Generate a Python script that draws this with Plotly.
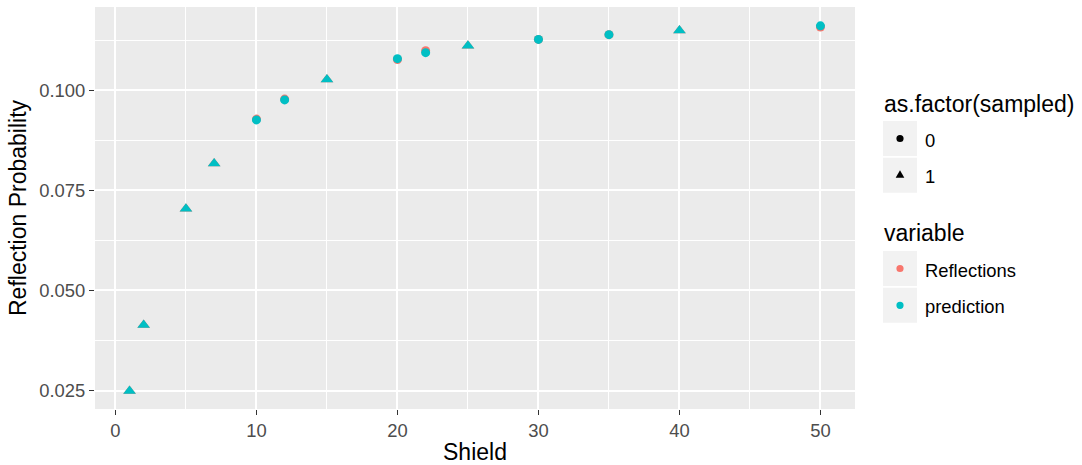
import plotly.graph_objects as go

# ---- data ----
shield = [1, 2, 5, 7, 10, 12, 15, 20, 22, 25, 30, 35, 40, 50]
sampled = [1, 1, 1, 1, 0, 0, 1, 0, 0, 1, 0, 0, 1, 0]
reflections = [0.0249, 0.0414, 0.0704, 0.0817, 0.0928, 0.0978, 0.1027,
               0.1077, 0.1099, 0.1111, 0.1127, 0.1139, 0.1149, 0.1158]
prediction = [0.0249, 0.0414, 0.0704, 0.0817, 0.0926, 0.0976, 0.1027,
              0.1079, 0.1094, 0.1111, 0.1127, 0.1139, 0.1149, 0.1161]
variables = ["Reflections", "prediction"]
var_colors = ["#F8766D", "#00BFC4"]
sampled_levels = ["0", "1"]
x_ticks = [0, 10, 20, 30, 40, 50]
y_ticks = [0.025, 0.050, 0.075, 0.100]

FONT = "Liberation Sans, Arial, sans-serif"
W, H = 1082, 465
ML, MR, MT, MB = 95, 227, 7, 56
PW, PH = W - ML - MR, H - MT - MB

symbols = ["circle" if s == 0 else "triangle-up" for s in sampled]
sizes = [9 if s == 0 else 11 for s in sampled]

fig = go.Figure()
for name, vals, col in zip(variables, [reflections, prediction], var_colors):
    fig.add_trace(go.Scatter(
        x=shield, y=vals, mode="markers", name=name, showlegend=False,
        marker=dict(color=col, symbol=symbols, size=sizes, line=dict(width=0), opacity=1),
    ))

axis_common = dict(
    automargin=False,
    showgrid=True, gridcolor="white", gridwidth=2,
    minor=dict(showgrid=True, gridcolor="white", gridwidth=1),
    zeroline=False, showline=False,
    ticks="outside", ticklen=5, tickwidth=1.4, tickcolor="#333333",
    tickfont=dict(family=FONT, size=18.4, color="#4D4D4D"),
)

fig.update_xaxes(
    **axis_common, range=[-1.45, 52.45], tickvals=x_ticks,
    title=dict(text="Shield", font=dict(family=FONT, size=23, color="black"), standoff=6),
)
fig.update_yaxes(
    **axis_common, range=[0.0204, 0.1208], tickvals=y_ticks, tickformat=".3f",
    title=dict(text="Reflection Probability", font=dict(family=FONT, size=23, color="black"), standoff=6),
)
fig.update_xaxes(minor=dict(tickvals=[5, 15, 25, 35, 45]))
fig.update_yaxes(minor=dict(tickvals=[0.0375, 0.0625, 0.0875, 0.1125]))


# ---- manual ggplot-style legend ----
def px(x):
    return (x - ML) / PW


def py(y):
    return (H - MB - y) / PH


shapes = []
annotations = []

box_x0, box_x1 = 883, 917
box_h, step = 35, 36.8
label_x = 923


def add_title(text, ycenter):
    annotations.append(dict(
        x=px(box_x0 - 1), y=py(ycenter), xref="paper", yref="paper",
        text=text, showarrow=False, xanchor="left", yanchor="middle",
        font=dict(family=FONT, size=23, color="black"),
    ))


def add_key(top, label, glyph, color):
    shapes.append(dict(type="rect", xref="paper", yref="paper",
                       x0=px(box_x0), x1=px(box_x1), y0=py(top), y1=py(top + box_h),
                       fillcolor="#F2F2F2", line=dict(width=0), layer="above"))
    cx = (box_x0 + box_x1) / 2
    cy = top + box_h / 2
    if glyph == "circle":
        r = 3.6
        shapes.append(dict(type="circle", xref="paper", yref="paper",
                           x0=px(cx - r), x1=px(cx + r), y0=py(cy - r), y1=py(cy + r),
                           fillcolor=color, line=dict(width=0), layer="above"))
    else:
        r = 5
        path = "M {},{} L {},{} L {},{} Z".format(
            px(cx - 0.866 * r), py(cy + r / 2), px(cx + 0.866 * r), py(cy + r / 2),
            px(cx), py(cy - r))
        shapes.append(dict(type="path", xref="paper", yref="paper", path=path,
                           fillcolor=color, line=dict(width=0), layer="above"))
    annotations.append(dict(
        x=px(label_x), y=py(cy + 1.5), xref="paper", yref="paper",
        text=label, showarrow=False, xanchor="left", yanchor="middle",
        font=dict(family=FONT, size=18.4, color="black"),
    ))


add_title("as.factor(sampled)", 104)
for i, (lvl, g) in enumerate(zip(sampled_levels, ["circle", "triangle"])):
    add_key(121 + i * step, lvl, g, "black")

add_title("variable", 233)
for i, (v, c) in enumerate(zip(variables, var_colors)):
    add_key(251 + i * step, v, "circle", c)

fig.update_layout(
    width=W, height=H,
    margin=dict(l=ML, r=MR, t=MT, b=MB, pad=0, autoexpand=False),
    plot_bgcolor="#EBEBEB", paper_bgcolor="white",
    showlegend=False,
    shapes=shapes, annotations=annotations,
    font=dict(family=FONT),
)

fig.write_html("out.html")
